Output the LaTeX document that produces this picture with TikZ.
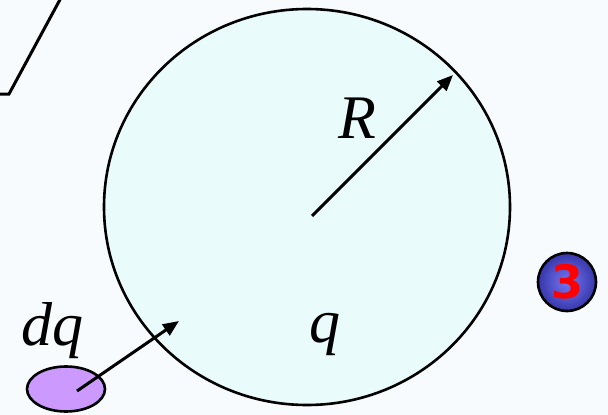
\documentclass[tikz,border=0pt]{standalone}
\usepackage{fontspec}
\setmainfont{Liberation Serif}
\newfontfamily\ballfont{DejaVu Sans}
\usetikzlibrary{arrows.meta,shapes.geometric}
\definecolor{bgpale}{RGB}{247,251,253}
\definecolor{spherecyan}{RGB}{234,251,252}
\definecolor{chargelilac}{RGB}{204,153,255}
\definecolor{ballin}{RGB}{118,118,245}
\definecolor{ballout}{RGB}{55,55,170}
\tikzset{
  vec/.style={line width=3pt,-{Triangle[length=16pt,width=13pt]}},
  sym/.style={font=\fontsize{62}{72}\selectfont\itshape,inner sep=0pt,anchor=base},
}
\begin{document}
\begin{tikzpicture}[x=1pt,y=-1pt]
    % 背景
    \fill[bgpale] (0,0) rectangle (608,415);
    \useasboundingbox (0,0) rectangle (608,415);

    % 左上角的平面边缘
    \draw[line width=3pt,line join=miter] (-2,94) -- (9,94) -- (63,-6);

    % 带电球体
    \node[ellipse,draw,line width=2.6pt,fill=spherecyan,inner sep=0pt,
          minimum width=406pt,minimum height=396pt] (sphere) at (307,207) {};
    \node[sym] (labR) at (357,138) {R};
    \node[sym] (labq) at (325,342) {q};

    % 半径
    \coordinate (centre) at (312,216);
    \coordinate (rim) at (453,75);
    \draw[vec] (centre) -- (rim);

    % 电荷元 dq
    \node[ellipse,draw,line width=2.6pt,fill=chargelilac,inner sep=0pt,
          minimum width=78pt,minimum height=45pt] (charge) at (66,389) {};
    \node[sym] (labdq) at (52,345) {dq};
    \coordinate (inside) at (179,321);
    \draw[vec] ([xshift=11pt,yshift=-2pt]charge.center) -- (inside);

    % 编号小球
    \node[circle,draw,line width=2.6pt,inner sep=0pt,minimum size=58pt,
          shading=radial,inner color=ballin,outer color=ballout,
          text=red,font=\ballfont\bfseries\fontsize{46}{46}\selectfont]
          (ball) at (567,282) {3};
\end{tikzpicture}
\end{document}
